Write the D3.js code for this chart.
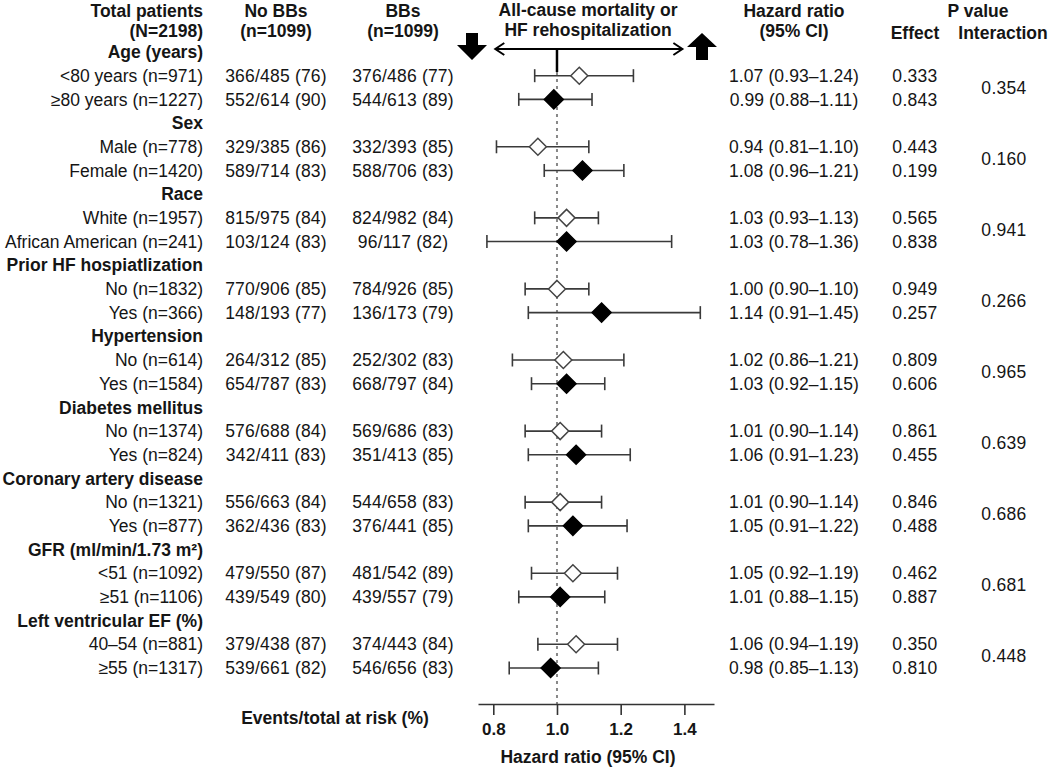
<!DOCTYPE html>
<html><head><meta charset="utf-8">
<script src="https://cdn.jsdelivr.net/npm/d3@7/dist/d3.min.js"></script>
<style>
body{margin:0;background:#fff}
svg{display:block}
text{font-family:"Liberation Sans",Arial,Helvetica,sans-serif;fill:#151515}
</style>
</head><body>
<svg id="chart" width="1050" height="769"></svg>
<script>
// ---------------- data ----------------
const groups = ["Age (years)", "Sex", "Race", "Prior HF hospiatlization", "Hypertension",
  "Diabetes mellitus", "Coronary artery disease", "GFR (ml/min/1.73 m²)", "Left ventricular EF (%)"];
const subgroupLabels = [
  "<80 years (n=971)", "≥80 years (n=1227)",
  "Male (n=778)", "Female (n=1420)",
  "White (n=1957)", "African American (n=241)",
  "No (n=1832)", "Yes (n=366)",
  "No (n=614)", "Yes (n=1584)",
  "No (n=1374)", "Yes (n=824)",
  "No (n=1321)", "Yes (n=877)",
  "<51 (n=1092)", "≥51 (n=1106)",
  "40–54 (n=881)", "≥55 (n=1317)"];
const noBBs = [
  "366/485 (76)", "552/614 (90)", "329/385 (86)", "589/714 (83)", "815/975 (84)", "103/124 (83)",
  "770/906 (85)", "148/193 (77)", "264/312 (85)", "654/787 (83)", "576/688 (84)", "342/411 (83)",
  "556/663 (84)", "362/436 (83)", "479/550 (87)", "439/549 (80)", "379/438 (87)", "539/661 (82)"];
const BBs = [
  "376/486 (77)", "544/613 (89)", "332/393 (85)", "588/706 (83)", "824/982 (84)", "96/117 (82)",
  "784/926 (85)", "136/173 (79)", "252/302 (83)", "668/797 (84)", "569/686 (83)", "351/413 (85)",
  "544/658 (83)", "376/441 (85)", "481/542 (89)", "439/557 (79)", "374/443 (84)", "546/656 (83)"];
const hrEst = [1.07, 0.99, 0.94, 1.08, 1.03, 1.03, 1.00, 1.14, 1.02, 1.03, 1.01, 1.06, 1.01, 1.05, 1.05, 1.01, 1.06, 0.98];
const hrLow = [0.93, 0.88, 0.81, 0.96, 0.93, 0.78, 0.90, 0.91, 0.86, 0.92, 0.90, 0.91, 0.90, 0.91, 0.92, 0.88, 0.94, 0.85];
const hrHigh = [1.24, 1.11, 1.10, 1.21, 1.13, 1.36, 1.10, 1.45, 1.21, 1.15, 1.14, 1.23, 1.14, 1.22, 1.19, 1.15, 1.19, 1.13];
const pEffect = ["0.333", "0.843", "0.443", "0.199", "0.565", "0.838", "0.949", "0.257", "0.809",
  "0.606", "0.861", "0.455", "0.846", "0.488", "0.462", "0.887", "0.350", "0.810"];
const pInteraction = ["0.354", "0.160", "0.941", "0.266", "0.965", "0.639", "0.686", "0.681", "0.448"];
const axisTicks = [0.8, 1.0, 1.2, 1.4];

// ---------------- layout ----------------
const svg = d3.select("#chart");
const yRow = d3.scaleLinear().domain([0, 26]).range([52, 668]);
const x = d3.scaleLinear().domain([0.752, 1.493]).range([478, 714]);
const colLabelRight = 203, colNoBB = 276, colBB = 403, colHR = 794, colEff = 915, colInt = 1004;
const fmt = d3.format(".2f");
const BOLD = 17.5, REG = 17.5;

function txt(xp, yp, s, opt = {}) {
  return svg.append("text").attr("x", xp).attr("y", yp).attr("dy", "0.35em")
    .attr("text-anchor", opt.anchor || "middle")
    .attr("font-size", opt.size || BOLD)
    .attr("font-weight", opt.bold ? "bold" : "normal")
    .attr("letter-spacing", opt.ls || 0)
    .text(s);
}
// headers
txt(colLabelRight, 11, "Total patients", {anchor: "end", bold: true});
txt(colLabelRight, 31, "(N=2198)", {anchor: "end", bold: true});
txt(colNoBB, 11, "No BBs", {bold: true});
txt(colNoBB, 31, "(n=1099)", {bold: true});
txt(colBB, 11, "BBs", {bold: true});
txt(colBB, 31, "(n=1099)", {bold: true});
txt(588, 10, "All-cause mortality or", {bold: true});
txt(588, 30, "HF rehospitalization", {bold: true});
txt(colHR, 11, "Hazard ratio", {bold: true});
txt(colHR, 31, "(95% CI)", {bold: true});
txt(978, 11, "P value", {bold: true});
txt(colEff, 33, "Effect", {bold: true});
txt(1003, 33, "Interaction", {bold: true});

// direction arrows
const arrowY = 49;
svg.append("line").attr("x1", x(0.8) + 2).attr("x2", x(1.4) - 2).attr("y1", arrowY).attr("y2", arrowY)
  .attr("stroke", "#000").attr("stroke-width", 2);
svg.append("path")
  .attr("d", `M${x(0.8) + 11},${arrowY - 6} L${x(0.8) + 2},${arrowY} L${x(0.8) + 11},${arrowY + 6}`)
  .attr("fill", "none").attr("stroke", "#000").attr("stroke-width", 2);
svg.append("path")
  .attr("d", `M${x(1.4) - 11},${arrowY - 6} L${x(1.4) - 2},${arrowY} L${x(1.4) - 11},${arrowY + 6}`)
  .attr("fill", "none").attr("stroke", "#000").attr("stroke-width", 2);
svg.append("line").attr("x1", x(1.0)).attr("x2", x(1.0)).attr("y1", arrowY).attr("y2", 72)
  .attr("stroke", "#000").attr("stroke-width", 2.5);
// block arrows
const dx = 472, ux = 702;
svg.append("path").attr("fill", "#000")
  .attr("d", `M${dx - 6},33 L${dx + 6},33 L${dx + 6},45 L${dx + 15},45 L${dx},60 L${dx - 15},45 L${dx - 6},45 Z`);
svg.append("path").attr("fill", "#000")
  .attr("d", `M${ux - 6},60 L${ux + 6},60 L${ux + 6},47 L${ux + 15},47 L${ux},33 L${ux - 15},47 L${ux - 6},47 Z`);

// reference line
svg.append("line").attr("x1", x(1.0)).attr("x2", x(1.0)).attr("y1", 72).attr("y2", 704)
  .attr("stroke", "#888").attr("stroke-width", 2).attr("stroke-dasharray", "3,4");

// group headers
groups.forEach((g, i) => {
  txt(colLabelRight, yRow(i * 3), g, {anchor: "end", bold: true});
});

// subgroup rows
const rows = subgroupLabels.map((lab, k) => ({
  k, lab, y: yRow(Math.floor(k / 2) * 3 + 1 + (k % 2)), first: k % 2 === 0
}));
rows.forEach(r => {
  txt(colLabelRight, r.y, r.lab, {anchor: "end", size: REG});
  txt(colNoBB, r.y, noBBs[r.k], {size: REG, ls: 0.2});
  txt(colBB, r.y, BBs[r.k], {size: REG, ls: 0.2});
  txt(colHR, r.y, `${fmt(hrEst[r.k])} (${fmt(hrLow[r.k])}–${fmt(hrHigh[r.k])})`, {size: REG, ls: 0.1});
  txt(colEff, r.y, pEffect[r.k], {size: REG, ls: 0.3});
});
pInteraction.forEach((p, i) => {
  txt(colInt, (yRow(i * 3 + 1) + yRow(i * 3 + 2)) / 2, p, {size: REG, ls: 0.3});
});

// CIs
const ci = svg.append("g").attr("stroke", "#3a3a3a").attr("stroke-width", 1.6);
rows.forEach(r => {
  ci.append("line").attr("x1", x(hrLow[r.k])).attr("x2", x(hrHigh[r.k])).attr("y1", r.y).attr("y2", r.y);
  ci.append("line").attr("x1", x(hrLow[r.k])).attr("x2", x(hrLow[r.k])).attr("y1", r.y - 6.5).attr("y2", r.y + 6.5);
  ci.append("line").attr("x1", x(hrHigh[r.k])).attr("x2", x(hrHigh[r.k])).attr("y1", r.y - 6.5).attr("y2", r.y + 6.5);
});
rows.forEach(r => {
  const cx = x(hrEst[r.k]), s = r.first ? 8.5 : 9.5;
  svg.append("path")
    .attr("d", `M${cx},${r.y - s} L${cx + s},${r.y} L${cx},${r.y + s} L${cx - s},${r.y} Z`)
    .attr("fill", r.first ? "#fff" : "#000")
    .attr("stroke", r.first ? "#444" : "#000").attr("stroke-width", 1.5);
});

// axis
const axisG = svg.append("g").attr("transform", "translate(0,704)")
  .call(d3.axisBottom(x).tickValues(axisTicks).tickFormat(d3.format(".1f")).tickSize(11).tickSizeOuter(0).tickPadding(8));
axisG.select(".domain").attr("stroke", "#333").attr("stroke-width", 1.6);
axisG.selectAll(".tick line").attr("stroke", "#333").attr("stroke-width", 1.6);
axisG.selectAll(".tick text").attr("font-size", 17).attr("font-weight", "bold")
  .attr("font-family", "'Liberation Sans',Arial,sans-serif").attr("fill", "#151515");
txt(588, 757, "Hazard ratio (95% CI)", {bold: true, size: 17.5});
txt(335, 718, "Events/total at risk (%)", {bold: true, size: 17.5});
</script>
</body></html>
